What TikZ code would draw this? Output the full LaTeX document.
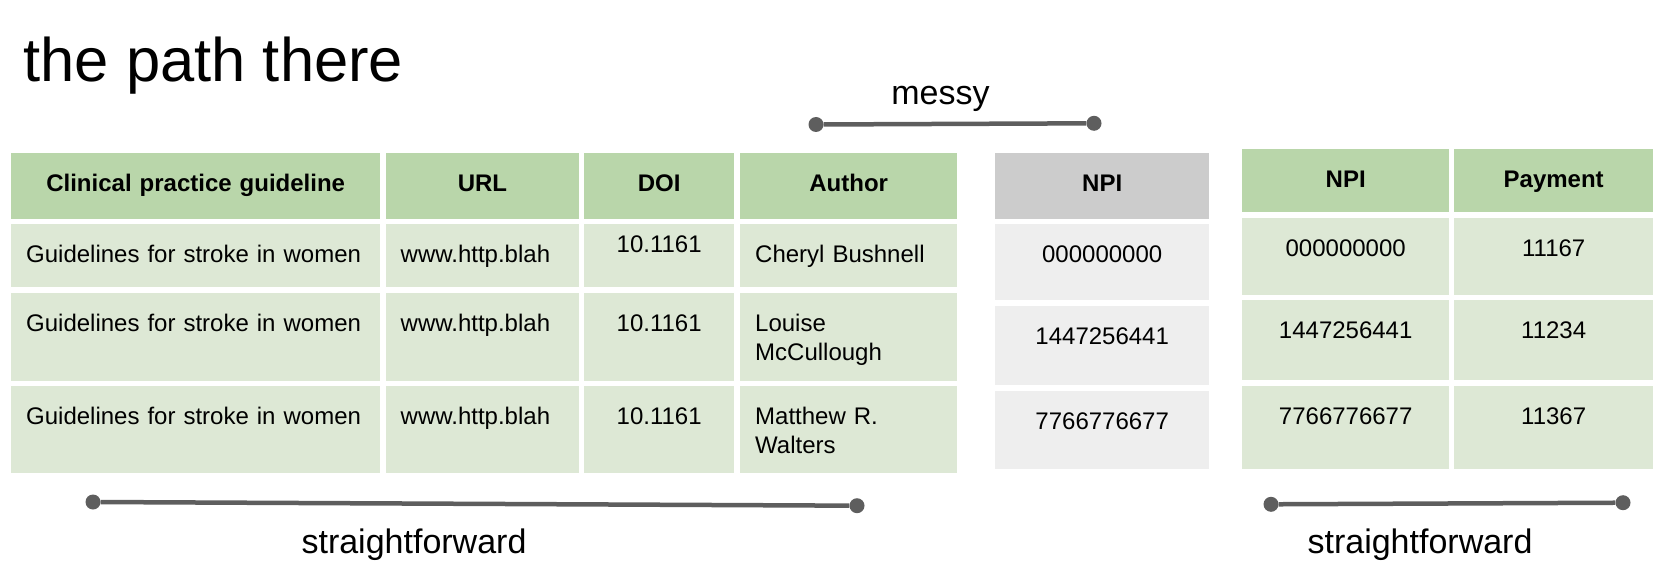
\documentclass[tikz,border=0pt]{standalone}
\usepackage{fontspec}
\setmainfont{Liberation Sans}
\definecolor{headgreen}{HTML}{B9D6AA}
\definecolor{rowgreen}{HTML}{DDE8D5}
\definecolor{headgrey}{HTML}{CCCCCC}
\definecolor{rowgrey}{HTML}{EEEEEE}
\definecolor{linegrey}{HTML}{5E5E5E}

\begin{document}
\begin{tikzpicture}[x=1pt, y=-1pt,
    cell/.style={anchor=north west, inner xsep=15pt, inner ysep=0pt, text height=38pt, font=\fontsize{24}{29.5}\selectfont},
    head/.style={cell, fill=headgreen, align=center, font=\bfseries\fontsize{24}{29.5}\selectfont},
    body/.style={cell, fill=rowgreen, align=left},
    mid/.style={cell, fill=rowgreen, align=center},
    greyhead/.style={head, fill=headgrey},
    greybody/.style={mid, fill=rowgrey},
    dot/.style={circle, fill=linegrey, inner sep=0pt, minimum size=15pt},
    link/.style={draw=linegrey, line width=4.5pt},
    note/.style={anchor=base, inner sep=0pt, font=\fontsize{34}{40}\selectfont}]
    \useasboundingbox (0,0) rectangle (1680,572);

    \node[anchor=base west, inner sep=0pt, font=\fontsize{61.5}{70}\selectfont] (title) at (23.5,82) {the path there};

    % guideline table
    \node[head, text width=339pt, text depth=28pt] (guide) at (11,153) {Clinical practice guideline};
    \node[head, text width=163.5pt, text depth=28pt] (url) at (385.5,153) {URL};
    \node[head, text width=120pt, text depth=28pt] (doi) at (584,153) {DOI};
    \node[head, text width=187pt, text depth=28pt] (author) at (740,153) {Author};

    \node[body, text width=339pt, text depth=25pt] (guide1) at (11,224) {Guidelines for stroke in women};
    \node[body, text width=163.5pt, text depth=25pt] (url1) at (385.5,224) {www.http.blah};
    \node[mid, text width=120pt, text height=28pt, text depth=35pt] (doi1) at (584,224) {10.1161};
    \node[body, text width=187pt, text depth=25pt] (author1) at (740,224) {Cheryl Bushnell};

    \node[body, text width=339pt, text depth=50pt] (guide2) at (11,293) {Guidelines for stroke in women};
    \node[body, text width=163.5pt, text depth=50pt] (url2) at (385.5,293) {www.http.blah};
    \node[mid, text width=120pt, text depth=50pt] (doi2) at (584,293) {10.1161};
    \node[body, text width=187pt, text depth=50pt] (author2) at (740,293) {Louise\\McCullough};

    \node[body, text width=339pt, text depth=49pt] (guide3) at (11,386) {Guidelines for stroke in women};
    \node[body, text width=163.5pt, text depth=49pt] (url3) at (385.5,386) {www.http.blah};
    \node[mid, text width=120pt, text depth=49pt] (doi3) at (584,386) {10.1161};
    \node[body, text width=187pt, text depth=49pt] (author3) at (740,386) {Matthew R.\\Walters};

    % npi lookup
    \node[greyhead, text width=184pt, text depth=28pt] (npi) at (995,153) {NPI};
    \node[greybody, text width=184pt, text depth=38pt] (npi1) at (995,224) {000000000};
    \node[greybody, text width=184pt, text depth=41pt] (npi2) at (995,306) {1447256441};
    \node[greybody, text width=184pt, text depth=40pt] (npi3) at (995,391) {7766776677};

    % payment table
    \node[head, text width=177pt, text depth=25pt] (paynpi) at (1242,149) {NPI};
    \node[head, text width=169pt, text depth=25pt] (pay) at (1454,149) {Payment};
    \node[mid, text width=177pt, text depth=39pt] (paynpi1) at (1242,218) {000000000};
    \node[mid, text width=169pt, text depth=39pt] (pay1) at (1454,218) {11167};
    \node[mid, text width=177pt, text depth=42pt] (paynpi2) at (1242,300) {1447256441};
    \node[mid, text width=169pt, text depth=42pt] (pay2) at (1454,300) {11234};
    \node[mid, text width=177pt, text depth=45pt] (paynpi3) at (1242,386) {7766776677};
    \node[mid, text width=169pt, text depth=45pt] (pay3) at (1454,386) {11367};

    % brackets
    \node[dot] (m1) at (816,124.5) {};
    \node[dot] (m2) at (1094,123.3) {};
    \node[dot] (s1) at (93,502) {};
    \node[dot] (s2) at (857,505.7) {};
    \node[dot] (t1) at (1271,504.3) {};
    \node[dot] (t2) at (1623,502.7) {};
    \draw[link] (m1) -- (m2);
    \draw[link] (s1) -- (s2);
    \draw[link] (t1) -- (t2);

    \node[note] (messy) at (940.5,105) {messy};
    \node[note] (easy1) at (414,553) {straightforward};
    \node[note] (easy2) at (1420,553) {straightforward};
  \end{tikzpicture}
\end{document}
